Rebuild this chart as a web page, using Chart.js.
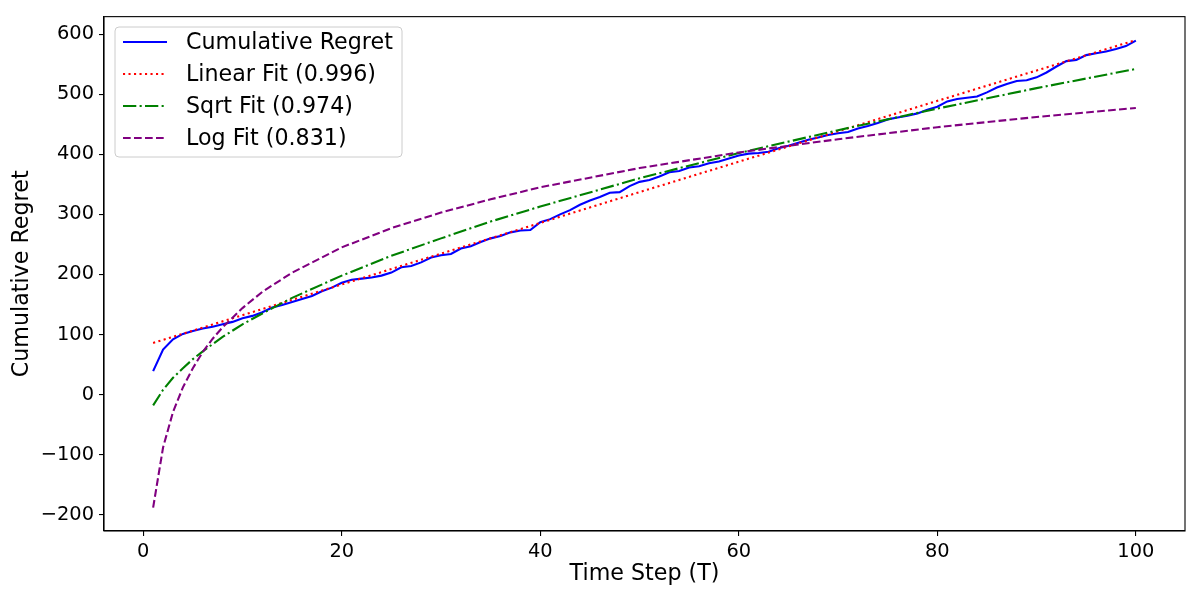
<!DOCTYPE html>
<html>
<head>
<meta charset="utf-8">
<script src="https://cdn.jsdelivr.net/npm/chart.js@4/dist/chart.umd.min.js"></script>
<style>
    html, body { margin: 0; padding: 0; background: #fff; }
    #wrap { width: 1200px; height: 600px; }
</style>
</head>
<body>
<div id="wrap"><canvas id="regretChart"></canvas></div>
<script>
// Observed cumulative regret, one value per time step
const steps = [
    1, 2, 3, 4, 5, 6, 7, 8, 9, 10, 11, 12, 13, 14, 15, 16, 17, 18, 19, 20,
    21, 22, 23, 24, 25, 26, 27, 28, 29, 30, 31, 32, 33, 34, 35, 36, 37, 38, 39, 40,
    41, 42, 43, 44, 45, 46, 47, 48, 49, 50, 51, 52, 53, 54, 55, 56, 57, 58, 59, 60,
    61, 62, 63, 64, 65, 66, 67, 68, 69, 70, 71, 72, 73, 74, 75, 76, 77, 78, 79, 80,
    81, 82, 83, 84, 85, 86, 87, 88, 89, 90, 91, 92, 93, 94, 95, 96, 97, 98, 99, 100
];
const regret = [
    39, 75, 92, 101, 106, 110, 113, 117, 121, 127, 131, 137, 145, 149, 154, 159, 164, 172, 178, 186,
    191, 193, 195, 198, 203, 212, 214, 220, 228, 232, 234, 243, 247, 254, 260, 264, 270, 273, 274, 287,
    292, 300, 307, 316, 323, 329, 336, 337, 347, 354, 357, 363, 370, 372, 378, 380, 385, 388, 393, 398,
    401, 402, 404, 410, 414, 419, 424, 428, 432, 435, 437, 443, 447, 452, 458, 461, 464, 468, 474, 479,
    488, 492, 494, 496, 503, 511, 517, 522, 523, 528, 536, 546, 555, 557, 565, 568, 571, 575, 580, 589
];

// Fitted curves, read at a subset of steps
const linearSteps = [1, 50, 100];
const linearFit = [86, 337, 590];
const fitSteps = [1, 2, 3, 4, 5, 6, 7, 8, 10, 12, 15, 20, 25, 30, 35, 40, 50, 60, 70, 80, 90, 100];
const sqrtFit = [-18, 8, 28, 44, 59, 72, 84, 96, 117, 135, 161, 198, 231, 260, 288, 313, 360, 402, 440, 476, 510, 542];
const logFit = [-188, -88, -29, 12, 44, 71, 93, 112, 144, 171, 203, 245, 277, 303, 325, 345, 377, 403, 425, 445, 462, 477];

const xTicks = [0, 20, 40, 60, 80, 100];
const yTicks = [-200, -100, 0, 100, 200, 300, 400, 500, 600];

const FONT = "'DejaVu Sans', sans-serif";
const toPoints = (xs, ys) => xs.map((x, i) => ({ x: x, y: ys[i] }));

// full box around the plot, like matplotlib spines
const frame = {
    id: 'frame',
    afterDraw(chart) {
        const { ctx, chartArea: a } = chart;
        ctx.save();
        ctx.strokeStyle = '#000';
        ctx.lineWidth = 1.1;
        ctx.strokeRect(a.left, a.top, a.right - a.left, a.bottom - a.top);
        ctx.restore();
    }
};

// legend box drawn inside the plot, upper left
const innerLegend = {
    id: 'innerLegend',
    afterDatasetsDraw(chart) {
        const ctx = chart.ctx;
        const x = 115, y = 27, w = 287, h = 130, r = 4;
        ctx.save();
        ctx.beginPath();
        ctx.roundRect(x, y, w, h, r);
        ctx.fillStyle = 'rgba(255,255,255,0.8)';
        ctx.fill();
        ctx.strokeStyle = '#cccccc';
        ctx.lineWidth = 1;
        ctx.stroke();

        ctx.font = '22.2px ' + FONT;
        ctx.textBaseline = 'middle';
        chart.data.datasets.forEach((ds, i) => {
            const cy = 42 + i * 32;
            ctx.beginPath();
            ctx.setLineDash(ds.borderDash || []);
            ctx.strokeStyle = ds.borderColor;
            ctx.lineWidth = ds.borderWidth;
            ctx.moveTo(123, cy);
            ctx.lineTo(167, cy);
            ctx.stroke();
            ctx.setLineDash([]);
            ctx.fillStyle = '#000';
            ctx.fillText(ds.label, 186, cy + 1);
        });
        ctx.restore();
    }
};

const ctx = document.getElementById('regretChart').getContext('2d');
new Chart(ctx, {
    type: 'line',
    data: {
        datasets: [
            {
                label: 'Cumulative Regret',
                data: toPoints(steps, regret),
                borderColor: '#0000ff',
                borderWidth: 2.1,
                order: 3
            },
            {
                label: 'Linear Fit (0.996)',
                data: toPoints(linearSteps, linearFit),
                borderColor: '#ff0000',
                borderWidth: 2.1,
                borderDash: [2.1, 3.4],
                order: 2
            },
            {
                label: 'Sqrt Fit (0.974)',
                data: toPoints(fitSteps, sqrtFit),
                borderColor: '#008000',
                borderWidth: 2.1,
                borderDash: [13.3, 3.3, 2.1, 3.3],
                order: 1
            },
            {
                label: 'Log Fit (0.831)',
                data: toPoints(fitSteps, logFit),
                borderColor: '#800080',
                borderWidth: 2.1,
                borderDash: [7.7, 3.3],
                order: 0
            }
        ]
    },
    options: {
        responsive: true,
        maintainAspectRatio: false,
        animation: false,
        layout: { padding: { top: 15, right: 15, left: 0, bottom: 0 } },
        elements: {
            point: { radius: 0, hoverRadius: 0 },
            line: { tension: 0, fill: false, borderCapStyle: 'butt' }
        },
        plugins: {
            legend: { display: false },
            tooltip: { enabled: false }
        },
        scales: {
            x: {
                type: 'linear',
                min: -3.95,
                max: 104.95,
                afterBuildTicks: scale => { scale.ticks = xTicks.map(v => ({ value: v })); },
                afterFit: scale => { scale.height = 69; },
                grid: { drawOnChartArea: false, drawTicks: true, tickLength: 5, color: '#000', lineWidth: 1.1 },
                border: { display: true, color: '#000', width: 1.1 },
                ticks: { color: '#000', padding: 4, maxRotation: 0, font: { family: FONT, size: 19.4 } },
                title: {
                    display: true,
                    text: 'Time Step (T)',
                    color: '#000',
                    padding: { top: 0, bottom: 12 },
                    font: { family: FONT, size: 22.2 }
                }
            },
            y: {
                type: 'linear',
                min: -227,
                max: 629,
                afterBuildTicks: scale => { scale.ticks = yTicks.map(v => ({ value: v })); },
                afterFit: scale => { scale.width = 104; },
                grid: { drawOnChartArea: false, drawTicks: true, tickLength: 5, color: '#000', lineWidth: 1.1 },
                border: { display: true, color: '#000', width: 1.1 },
                ticks: {
                    color: '#000',
                    padding: 5,
                    font: { family: FONT, size: 19.4 },
                    callback: v => String(v).replace('-', '\u2212')
                },
                title: {
                    display: true,
                    text: 'Cumulative Regret',
                    color: '#000',
                    padding: { top: 9, bottom: 0 },
                    font: { family: FONT, size: 22.2 }
                }
            }
        }
    },
    plugins: [frame, innerLegend]
});
</script>
</body>
</html>
